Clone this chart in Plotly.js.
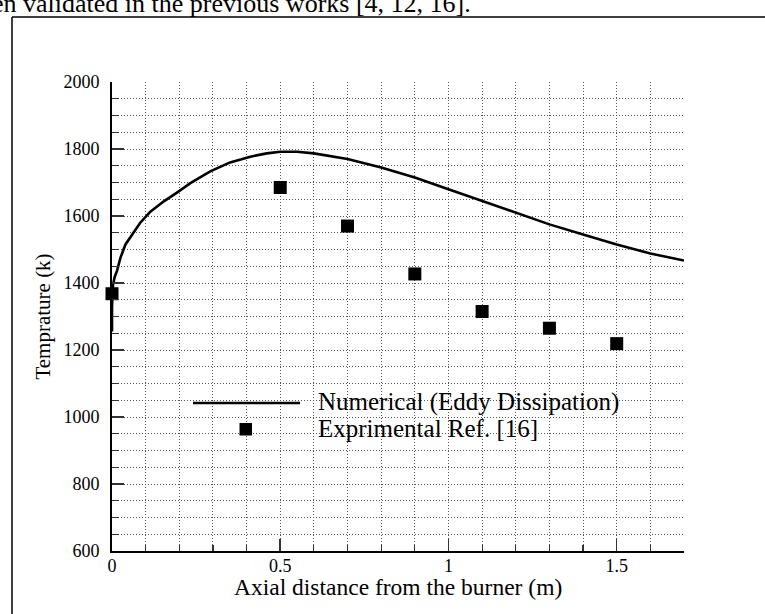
<!DOCTYPE html>
<html>
<head>
<meta charset="utf-8">
<script src="https://cdn.plot.ly/plotly-3.0.1.min.js"></script>
<style>
html,body{margin:0;padding:0;background:#fff;}
#chart{width:765px;height:614px;}
</style>
</head>
<body>
<div id="chart"></div>
<script>
// ---- data ----
var numX = [0, 0, 0.003, 0.008, 0.015, 0.025, 0.04, 0.06, 0.084, 0.114, 0.153, 0.193, 0.233, 0.292, 0.351, 0.411, 0.46, 0.5, 0.55, 0.6, 0.7, 0.8, 0.9, 1.0, 1.1, 1.2, 1.3, 1.4, 1.5, 1.6, 1.7];
var numT = [1255, 1330, 1395, 1418, 1437, 1475, 1515, 1545, 1580, 1613, 1643, 1670, 1698, 1733, 1760, 1777, 1787, 1792, 1792, 1787, 1770, 1745, 1715, 1680, 1645, 1608, 1575, 1545, 1515, 1488, 1467];
var expX = [0, 0.5, 0.7, 0.9, 1.1, 1.3, 1.5];
var expT = [1368, 1685, 1570, 1427, 1315, 1265, 1219];
var numName = "Numerical (Eddy Dissipation)";
var expName = "Exprimental Ref. [16]";
var xTitle = "Axial distance from the burner (m)";
var yTitle = "Temprature (k)";
var topText = "en validated in the previous works [4, 12, 16].";
var xTickVals = [0, 0.5, 1, 1.5];
var xTickText = ["0", "0.5", "1", "1.5"];
var yTickVals = [600, 800, 1000, 1200, 1400, 1600, 1800, 2000];
var yTickText = ["600", "800", "1000", "1200", "1400", "1600", "1800", "2000"];

// ---- layout geometry ----
var W = 765, H = 614;
var M = {l: 112, r: 81, t: 82, b: 63};
var PW = W - M.l - M.r, PH = H - M.t - M.b;
function px(x){ return (x - M.l) / PW; }
function py(y){ return (H - M.b - y) / PH; }

var SERIF = "Liberation Serif";
var gridC = "#555";
var dotted = "1px,2px";

var traces = [
  {x: numX, y: numT, type: "scatter", mode: "lines", name: numName,
   line: {color: "#000", width: 2.6}, showlegend: false, hoverinfo: "skip"},
  {x: expX, y: expT, type: "scatter", mode: "markers", name: expName,
   marker: {symbol: "square", size: 13, color: "#000"}, showlegend: false, hoverinfo: "skip", cliponaxis: false}
];

var layout = {
  width: W, height: H,
  margin: M,
  paper_bgcolor: "#fff", plot_bgcolor: "#fff",
  font: {family: SERIF, color: "#000", size: 18},
  showlegend: false,
  xaxis: {
    range: [0, 1.7], tickmode: "array", tickvals: xTickVals, ticktext: xTickText,
    ticks: "inside", ticklen: 12, tickwidth: 1.5, tickcolor: "#333",
    showline: true, linecolor: "#000", linewidth: 2,
    showgrid: true, gridcolor: gridC, gridwidth: 1, griddash: dotted,
    zeroline: false, tickfont: {family: SERIF, size: 18, color: "#000"},
    ticklabelstandoff: -3,
    minor: {dtick: 0.1, tick0: 0, ticks: "inside", ticklen: 6, tickwidth: 1.2, tickcolor: "#333",
            showgrid: true, gridcolor: gridC, gridwidth: 1, griddash: dotted},
    automargin: false, fixedrange: true
  },
  yaxis: {
    range: [600, 2000], tickmode: "array", tickvals: yTickVals, ticktext: yTickText,
    ticks: "inside", ticklen: 12, tickwidth: 1.5, tickcolor: "#333",
    showline: true, linecolor: "#000", linewidth: 2,
    showgrid: true, gridcolor: gridC, gridwidth: 1, griddash: dotted,
    zeroline: false, tickfont: {family: SERIF, size: 18, color: "#000"},
    ticklabelstandoff: 7,
    minor: {dtick: 50, tick0: 600, ticks: "inside", ticklen: 7, tickwidth: 1.2, tickcolor: "#333",
            showgrid: true, gridcolor: gridC, gridwidth: 1, griddash: dotted},
    title: {text: yTitle, font: {family: SERIF, size: 21, color: "#000"}, standoff: 7},
    automargin: false, fixedrange: true
  },
  shapes: [
    // outer frame of the figure
    {type: "line", xref: "paper", yref: "paper", x0: px(12), x1: px(800), y0: py(17), y1: py(17),
     line: {color: "#000", width: 1.5}, layer: "above"},
    {type: "line", xref: "paper", yref: "paper", x0: px(12), x1: px(12), y0: py(17), y1: py(700),
     line: {color: "#000", width: 1.5}, layer: "above"},
    // legend box (white, covers grid)
    {type: "rect", xref: "paper", yref: "paper", x0: px(188), x1: px(656), y0: py(387), y1: py(440),
     fillcolor: "#fff", line: {width: 0}, layer: "below"},
    // legend line sample
    {type: "line", xref: "paper", yref: "paper", x0: px(193), x1: px(300), y0: py(403), y1: py(403),
     line: {color: "#000", width: 2.6}, layer: "above"},
    // legend marker sample
    {type: "rect", xref: "paper", yref: "paper", x0: px(239.5), x1: px(252), y0: py(423), y1: py(435.5),
     fillcolor: "#000", line: {width: 0}, layer: "above"}
  ],
  annotations: [
    // x-axis title
    {xref: "paper", yref: "paper", x: 0.5, y: py(587), xanchor: "center", yanchor: "middle",
     text: xTitle, showarrow: false, font: {family: SERIF, size: 23.5, color: "#000"}},
    // legend labels
    {xref: "paper", yref: "paper", x: px(316), y: py(402), xanchor: "left", yanchor: "middle",
     text: numName, showarrow: false, font: {family: SERIF, size: 25, color: "#000"}},
    {xref: "paper", yref: "paper", x: px(316), y: py(428), xanchor: "left", yanchor: "middle",
     text: expName, showarrow: false, font: {family: SERIF, size: 25, color: "#000"}},
    // text of the page above the figure (cut by the top edge)
    {xref: "paper", yref: "paper", x: px(-10), y: py(3), xanchor: "left", yanchor: "middle",
     text: topText, showarrow: false, font: {family: SERIF, size: 26, color: "#000"}}
  ]
};

Plotly.newPlot("chart", traces, layout, {staticPlot: true, displayModeBar: false});
</script>
</body>
</html>
